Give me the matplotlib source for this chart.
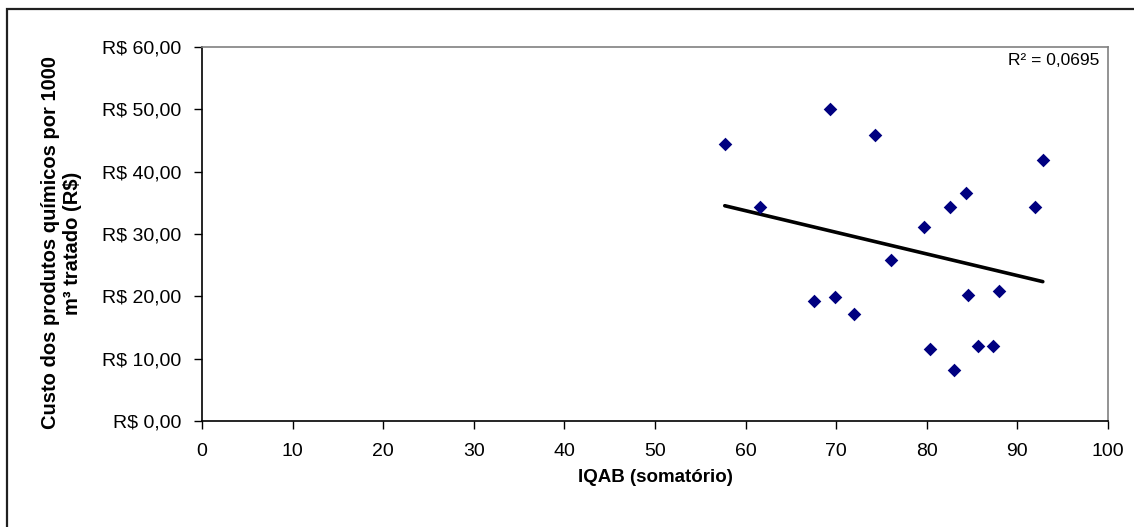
"""Scatter of chemical cost vs IQAB with linear trend line."""

import matplotlib

matplotlib.use("Agg")
import matplotlib.pyplot as plt
import numpy as np
from matplotlib.patches import Rectangle
from matplotlib.ticker import FuncFormatter, MultipleLocator

plt.rcParams["font.family"] = ["Liberation Sans", "DejaVu Sans"]

# IQAB (somatório) and cost per 1000 m3 (R$)
iqab = [57.7, 61.6, 67.6, 69.3, 69.9, 72.0, 74.3, 76.1, 79.7, 80.3,
        82.6, 83.0, 84.3, 84.5, 85.7, 87.3, 88.0, 91.9, 92.8]
custo = [44.4, 34.4, 19.3, 50.1, 19.9, 17.2, 45.9, 25.9, 31.1, 11.5,
         34.4, 8.2, 36.5, 20.2, 12.0, 12.0, 20.8, 34.4, 41.9]
r2_label = "R² = 0,0695"
x_label = "IQAB (somatório)"
y_label = "Custo dos produtos químicos por 1000\nm³ tratado (R$)"


def brl(v, _pos):
    return f"R$ {v:.2f}".replace(".", ",")


def main() -> None:
    fig = plt.figure(figsize=(11.34, 5.27), dpi=100)
    ax = fig.add_axes([0.1781, 0.2011, 0.7990, 0.7097])

    x = np.array(iqab)
    y = np.array(custo)
    ax.scatter(x, y, marker="D", s=48, color="#000080", zorder=3,
               linewidths=0)

    # linear trend over the data range
    slope, icpt = np.polyfit(x, y, 1)
    xl = np.array([x.min(), x.max()])
    ax.plot(xl, slope * xl + icpt, color="black", lw=2.6,
            solid_capstyle="round", zorder=2)

    ax.set_xlim(0, 100)
    ax.set_ylim(0, 60)
    ax.xaxis.set_major_locator(MultipleLocator(10))
    ax.yaxis.set_major_locator(MultipleLocator(10))
    ax.yaxis.set_major_formatter(FuncFormatter(brl))
    ax.tick_params(axis="both", direction="out", length=6, width=1,
                   labelsize=14, color="black")
    ax.tick_params(axis="x", pad=10)
    ax.tick_params(axis="y", pad=9)

    for side in ("left", "bottom"):
        ax.spines[side].set_color("black")
        ax.spines[side].set_linewidth(1.2)
    for side in ("top", "right"):
        ax.spines[side].set_color("#808080")
        ax.spines[side].set_linewidth(1.2)

    ax.text(0.99, 0.963, r2_label, transform=ax.transAxes, ha="right",
            va="center", fontsize=12.5)

    fig.text(0.5776, 0.093, x_label, ha="center", va="center",
             fontsize=13.5, fontweight="bold")
    fig.text(0.054, 0.539, y_label, ha="center", va="center",
             rotation=90, fontsize=14.5, fontweight="bold",
             multialignment="center", linespacing=1.2)

    # outer chart border (cut off at the right and bottom)
    fig.patches.append(Rectangle((7 / 1134, -0.05), 1.1, 1.05 - 9 / 527,
                                 transform=fig.transFigure, fill=False,
                                 edgecolor="#202020", lw=1.6))

    fig.savefig("out.png", dpi=100)
    plt.close(fig)


if __name__ == "__main__":
    main()
